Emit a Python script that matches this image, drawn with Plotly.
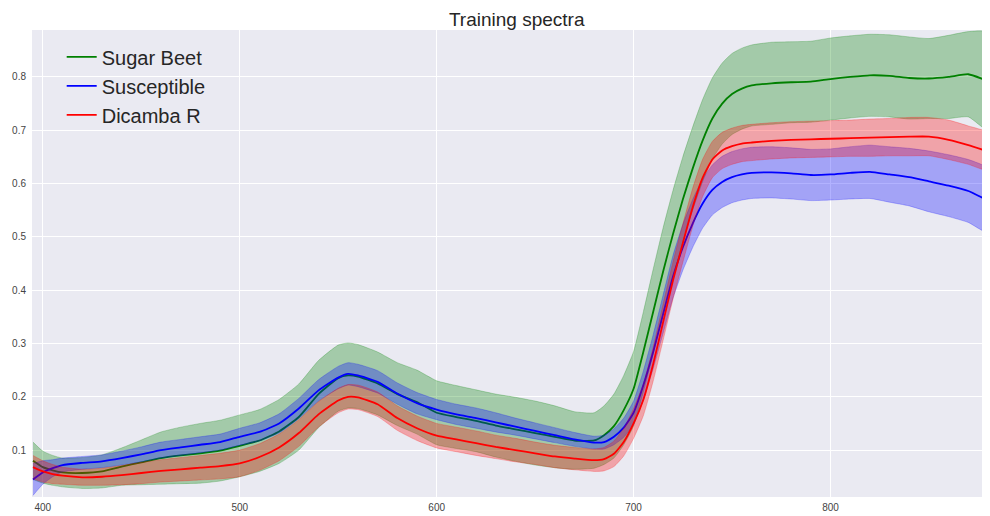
import plotly.graph_objects as go

wavelength = [395, 400, 405, 410, 420, 430, 440, 450, 460, 470, 480, 490, 500, 510, 520, 530, 540, 550, 555,
              560, 570, 580, 590, 600, 610, 620, 630, 640, 650, 660, 670, 680, 685, 690, 695, 700, 705, 710,
              715, 720, 725, 730, 735, 740, 745, 750, 755, 760, 770, 780, 790, 800, 810, 820, 830, 840, 850,
              860, 870, 880]

beet_mean = [0.080, 0.068, 0.062, 0.058, 0.057, 0.060, 0.069, 0.077, 0.085, 0.090, 0.094, 0.099, 0.108, 0.118,
             0.135, 0.162, 0.205, 0.235, 0.240, 0.238, 0.225, 0.205, 0.190, 0.170, 0.162, 0.155, 0.146, 0.139,
             0.132, 0.125, 0.118, 0.118, 0.128, 0.145, 0.175, 0.215, 0.285, 0.360, 0.435, 0.505, 0.570, 0.628,
             0.680, 0.722, 0.750, 0.768, 0.778, 0.784, 0.788, 0.790, 0.791, 0.796, 0.800, 0.803, 0.802, 0.798,
             0.797, 0.800, 0.805, 0.792]
beet_std = [0.035, 0.030, 0.028, 0.027, 0.029, 0.031, 0.035, 0.042, 0.049, 0.053, 0.056, 0.057, 0.058, 0.058,
            0.060, 0.062, 0.063, 0.062, 0.061, 0.060, 0.059, 0.059, 0.060, 0.060, 0.059, 0.058, 0.059, 0.060,
            0.060, 0.058, 0.054, 0.052, 0.055, 0.060, 0.065, 0.070, 0.075, 0.080, 0.082, 0.082, 0.080, 0.078,
            0.077, 0.076, 0.076, 0.076, 0.076, 0.076, 0.077, 0.076, 0.076, 0.077, 0.077, 0.077, 0.077, 0.077,
            0.075, 0.078, 0.080, 0.092]

susc_mean = [0.045, 0.058, 0.066, 0.072, 0.076, 0.079, 0.085, 0.092, 0.100, 0.105, 0.110, 0.115, 0.125, 0.134,
             0.150, 0.178, 0.212, 0.236, 0.243, 0.240, 0.228, 0.206, 0.188, 0.176, 0.167, 0.160, 0.152, 0.144,
             0.136, 0.128, 0.120, 0.114, 0.115, 0.125, 0.142, 0.170, 0.222, 0.285, 0.355, 0.425, 0.480, 0.525,
             0.562, 0.588, 0.603, 0.612, 0.617, 0.620, 0.621, 0.619, 0.616, 0.617, 0.620, 0.622, 0.617, 0.612,
             0.604, 0.596, 0.586, 0.568]
susc_std = [0.030, 0.022, 0.016, 0.013, 0.012, 0.012, 0.013, 0.014, 0.015, 0.015, 0.015, 0.015, 0.016, 0.017,
            0.018, 0.019, 0.020, 0.021, 0.021, 0.021, 0.021, 0.020, 0.020, 0.019, 0.019, 0.019, 0.018, 0.016,
            0.015, 0.014, 0.013, 0.012, 0.013, 0.015, 0.018, 0.022, 0.027, 0.032, 0.036, 0.040, 0.043, 0.045,
            0.046, 0.047, 0.048, 0.048, 0.048, 0.048, 0.048, 0.048, 0.048, 0.048, 0.049, 0.050, 0.052, 0.054,
            0.057, 0.058, 0.059, 0.060]

dicamba_mean = [0.068, 0.060, 0.055, 0.052, 0.049, 0.050, 0.053, 0.057, 0.061, 0.064, 0.067, 0.070, 0.075, 0.087,
                0.105, 0.132, 0.167, 0.193, 0.200, 0.199, 0.186, 0.160, 0.141, 0.127, 0.120, 0.113, 0.106, 0.100,
                0.094, 0.088, 0.084, 0.081, 0.083, 0.093, 0.115, 0.150, 0.195, 0.262, 0.340, 0.418, 0.488, 0.555,
                0.610, 0.645, 0.662, 0.670, 0.675, 0.677, 0.680, 0.682, 0.683, 0.684, 0.685, 0.686, 0.687, 0.688,
                0.688, 0.682, 0.672, 0.660]
dicamba_std = [0.022, 0.020, 0.018, 0.016, 0.015, 0.016, 0.018, 0.020, 0.021, 0.022, 0.023, 0.024, 0.025, 0.025,
               0.025, 0.025, 0.024, 0.023, 0.023, 0.023, 0.023, 0.023, 0.023, 0.023, 0.023, 0.023, 0.022, 0.022,
               0.021, 0.021, 0.021, 0.021, 0.022, 0.024, 0.026, 0.028, 0.030, 0.032, 0.034, 0.035, 0.036, 0.036,
               0.035, 0.034, 0.034, 0.034, 0.034, 0.034, 0.034, 0.034, 0.034, 0.034, 0.034, 0.035, 0.035, 0.036,
               0.036, 0.037, 0.036, 0.035]

series = [
    ("Sugar Beet", beet_mean, beet_std, "#008000", "rgba(0,128,0,0.3)"),
    ("Susceptible", susc_mean, susc_std, "#0000ff", "rgba(0,0,255,0.3)"),
    ("Dicamba R", dicamba_mean, dicamba_std, "#ff0000", "rgba(255,0,0,0.3)"),
]

fig = go.Figure()
for name, mean, std, lc, fc in series:
    fig.add_trace(go.Scatter(x=wavelength, y=mean, mode="lines", name=name,
                             line=dict(color=lc, width=1.8, shape="spline", smoothing=0.5)))
    upper = [m + s for m, s in zip(mean, std)]
    lower = [m - s for m, s in zip(mean, std)]
    fig.add_trace(go.Scatter(x=wavelength + wavelength[::-1], y=upper + lower[::-1],
                             mode="lines", fill="toself", fillcolor=fc,
                             line=dict(color=fc, width=0.8, shape="spline", smoothing=0.5),
                             showlegend=False, hoverinfo="skip"))

# page body has an 8px margin, so the figure is shrunk by 8px to fit the 990x516 window
fig.update_layout(
    width=982, height=508,
    margin=dict(l=24, r=0, t=22, b=19),
    paper_bgcolor="white", plot_bgcolor="#EAEAF2",
    font=dict(family="Liberation Sans, Arial, sans-serif", color="#262626"),
    title=dict(text="Training spectra", xref="paper", x=0.506, xanchor="center", y=0.977, yanchor="middle",
               font=dict(size=19, color="#262626")),
    legend=dict(x=0.031, y=0.984, xanchor="left", yanchor="top", bgcolor="rgba(0,0,0,0)",
                font=dict(size=20, color="#262626")),
    showlegend=True,
)
fig.update_xaxes(range=[394.5, 881], tickvals=[400, 500, 600, 700, 800], showgrid=True,
                 gridcolor="white", gridwidth=1, zeroline=False, showline=False, ticks="",
                 ticklabelstandoff=3, automargin=False,
                 tickfont=dict(size=10, color="#444444"))
fig.update_yaxes(range=[0.012, 0.888], tickvals=[0.1, 0.2, 0.3, 0.4, 0.5, 0.6, 0.7, 0.8],
                 ticktext=["0.1", "0.2", "0.3", "0.4", "0.5", "0.6", "0.7", "0.8"],
                 showgrid=True, gridcolor="white", gridwidth=1, zeroline=False, showline=False,
                 ticks="", ticklabelstandoff=5, automargin=False,
                 tickfont=dict(size=10, color="#444444"))

fig.write_html("out.html")
